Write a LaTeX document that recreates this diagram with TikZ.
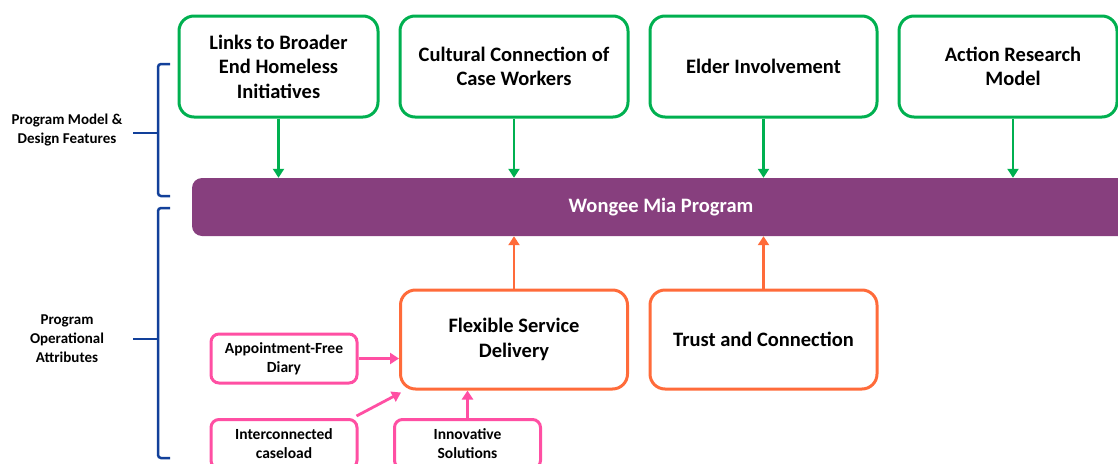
\documentclass[tikz,border=0pt]{standalone}
\usepackage{fontspec}
\setmainfont{Carlito}
\usetikzlibrary{arrows.meta}
\definecolor{cgreen}{HTML}{00B050}
\definecolor{corange}{HTML}{FF6B3A}
\definecolor{cpink}{HTML}{FF4FA3}
\definecolor{cpurple}{HTML}{873F7E}
\definecolor{cblue}{HTML}{12409A}
\tikzset{
  boxfont/.style={align=center, inner sep=0pt, font=\fontsize{20.5}{24.5}\selectfont\bfseries},
  greenbox/.style={draw=cgreen, line width=3pt, rounded corners=15pt, fill=white,
    minimum height=101pt, boxfont},
  orangebox/.style={draw=corange, line width=3pt, rounded corners=15pt, fill=white,
    minimum width=227pt, minimum height=99pt, boxfont},
  pinkbox/.style={draw=cpink, line width=3pt, rounded corners=8pt, fill=white,
    minimum width=146pt, minimum height=49pt, align=center, inner sep=0pt,
    font=\fontsize{15.5}{19}\selectfont\bfseries},
  barbox/.style={fill=cpurple, rounded corners=10pt, text=white,
    minimum width=938pt, minimum height=58pt, inner sep=0pt,
    font=\fontsize{20.5}{24}\selectfont\bfseries},
  sidelabel/.style={align=center, inner sep=0pt, font=\fontsize{15}{19}\selectfont\bfseries},
  garrow/.style={draw=cgreen, line width=2.8pt, -{Triangle[width=11pt,length=9pt]}},
  oarrow/.style={draw=corange, line width=2.8pt, -{Triangle[width=11pt,length=9pt]}},
  parrow/.style={draw=cpink, line width=2.8pt, -{Triangle[width=11pt,length=9pt]}},
  bracket/.style={draw=cblue, line width=2.5pt, rounded corners=3pt},
}
\begin{document}
\begin{tikzpicture}[x=1pt,y=-1pt]
\useasboundingbox (0,0) rectangle (1118,463);
\clip (0,0) rectangle (1118,463);
% top green boxes
\node[greenbox, minimum width=199pt] (b1) at (278.5,66.5) {Links to Broader\\End Homeless\\Initiatives};
\node[greenbox, minimum width=228pt] (b2) at (514,66.5) {Cultural Connection of\\Case Workers};
\node[greenbox, minimum width=227pt] (b3) at (763.5,66.5) {Elder Involvement};
\node[greenbox, minimum width=218pt] (b4) at (1008,66.5) {};
\node[boxfont] (b4t) at (1013,66.5) {Action Research\\Model};
% bar
\node[barbox] (bar) at (661,207) {Wongee Mia Program};
% orange boxes
\node[orangebox] (flex) at (514,339.5) {Flexible Service\\Delivery};
\node[orangebox] (trust) at (763.5,339.5) {Trust and Connection};
% pink boxes
\node[pinkbox] (appt) at (284,358.5) {Appointment-Free\\Diary};
\node[pinkbox, anchor=north] (inter) at (284,418) {Interconnected\\caseload};
\node[pinkbox, anchor=north] (innov) at (467.5,418) {Innovative\\Solutions};
% green arrows
\foreach \b in {b1,b2,b3}
  \draw[garrow] (\b.south) -- (\b.south |- bar.north);
\draw[garrow] (b4t |- b4.south) -- (b4t |- bar.north);
% orange arrows
\draw[oarrow] (flex.north) -- (flex.north |- bar.south);
\draw[oarrow] (trust.north) -- (trust.north |- bar.south);
% pink arrows
\draw[parrow] (appt.east) -- (appt.east -| flex.west);
\coordinate (ictop) at ([xshift=-2pt,yshift=2pt]inter.north east);
\coordinate (flexbl) at ([xshift=2pt,yshift=-2pt]flex.south west);
\draw[parrow] (ictop) -- (flexbl);
\draw[parrow] (innov.north) -- (innov.north |- flex.south);
% brackets
\draw[bracket] (170,64) -- (158,64) -- (158,196) -- (170,196);
\coordinate (t1) at (158,133);
\coordinate (t1l) at (133,133);
\draw[draw=cblue, line width=2.5pt] (t1) -- (t1l);
\node[sidelabel] (lab1) at (67,130) {Program Model \&\\Design Features};
\draw[bracket] (170,208) -- (158,208) -- (158,458) -- (170,458);
\coordinate (t2) at (158,339);
\coordinate (t2l) at (133,339);
\draw[draw=cblue, line width=2.5pt] (t2) -- (t2l);
\node[sidelabel] (lab2) at (67,339) {Program\\Operational\\Attributes};
\end{tikzpicture}
\end{document}
